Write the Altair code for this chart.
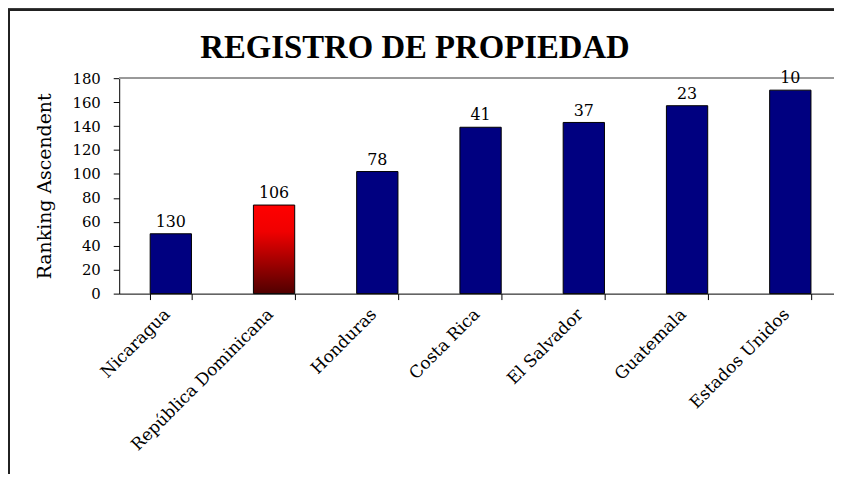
import altair as alt
import pandas as pd

countries = ["Nicaragua", "República Dominicana", "Honduras", "Costa Rica",
             "El Salvador", "Guatemala", "Estados Unidos"]
values = [50, 74, 102, 139, 143, 157, 170]
ranks = ["130", "106", "78", "41", "37", "23", "10"]
highlight = [False, True, False, False, False, False, False]
title_text = ["REGISTRO DE PROPIEDAD"]

df = pd.DataFrame({"pais": countries, "valor": values, "rank": ranks, "hl": highlight})

FONT = "DejaVu Serif"
W, H = 720, 217

xscale = alt.Scale(range=[0, 728], paddingInner=0.6, paddingOuter=0.3)
yscale = alt.Scale(domain=[0, 180], nice=False)

xenc = alt.X("pais:N", sort=countries, title=None, scale=xscale,
             axis=alt.Axis(labelAngle=-45, labelFont=FONT, labelFontSize=17, labelColor="black",
                           labelAlign="right", labelBaseline="middle", labelPadding=12,
                           labelOffset=-4,
                           tickBand="extent", tickColor="black", tickSize=6,
                           domainColor="black", labelLimit=400))
yenc = alt.Y("valor:Q", title="Ranking Ascendent", scale=yscale,
             axis=alt.Axis(tickCount=9, grid=False, labelFont=FONT,
                           labelFontSize=15, labelColor="black", tickColor="black", tickSize=6,
                           labelOverlap=False, labelFlush=False,
                           domainColor="black", titleFont=FONT, titleFontSize=19,
                           titleFontWeight="normal", titleColor="black", titlePadding=18,
                           labelPadding=13))

base = alt.Chart(df)

grad = alt.Gradient(gradient="linear", x1=0, x2=0, y1=0, y2=1,
                    stops=[alt.GradientStop(color="#ff0000", offset=0),
                           alt.GradientStop(color="#f00000", offset=0.3),
                           alt.GradientStop(color="#500000", offset=1)])

blue = base.transform_filter("!datum.hl").mark_bar(color="#000080", stroke="black", strokeWidth=1).encode(x=xenc, y=yenc)
red = base.transform_filter("datum.hl").mark_bar(fill=grad, stroke="black", strokeWidth=1).encode(x=xenc, y=yenc)
labels = base.mark_text(font=FONT, fontSize=16, baseline="bottom", dy=-4, color="black").encode(
    x=xenc, y=yenc, text="rank:N")

# plot-area top border (grey) and outer frame lines
top = alt.Chart(df).mark_rule(color="#999999", strokeWidth=1.5).encode(
    x=alt.value(0), x2=alt.value(900), y=alt.value(0))
bl = alt.Chart(df).mark_rule(color="#222222", strokeWidth=2).encode(
    x=alt.value(-111), y=alt.value(-69), y2=alt.value(500))
bt = alt.Chart(df).mark_rule(color="#222222", strokeWidth=2).encode(
    x=alt.value(-112), x2=alt.value(900), y=alt.value(-69))

ttl = alt.Chart(pd.DataFrame({"t": title_text})).mark_text(
    font="Liberation Serif", fontSize=33, fontWeight="bold", color="black",
    align="center", baseline="alphabetic").encode(
    x=alt.value(298), y=alt.value(-20), text="t:N")

chart = alt.layer(blue, red, top, labels, bl, bt, ttl).properties(
    width=W, height=H,
    autosize=alt.AutoSizeParams(type="none"),
    padding={"left": 112, "top": 69, "right": 0, "bottom": 180},
).configure(background="white").configure_view(stroke=None).configure_axisY(tickCount=9)

chart.save("out.html", embed_options={"renderer": "svg", "actions": False})
